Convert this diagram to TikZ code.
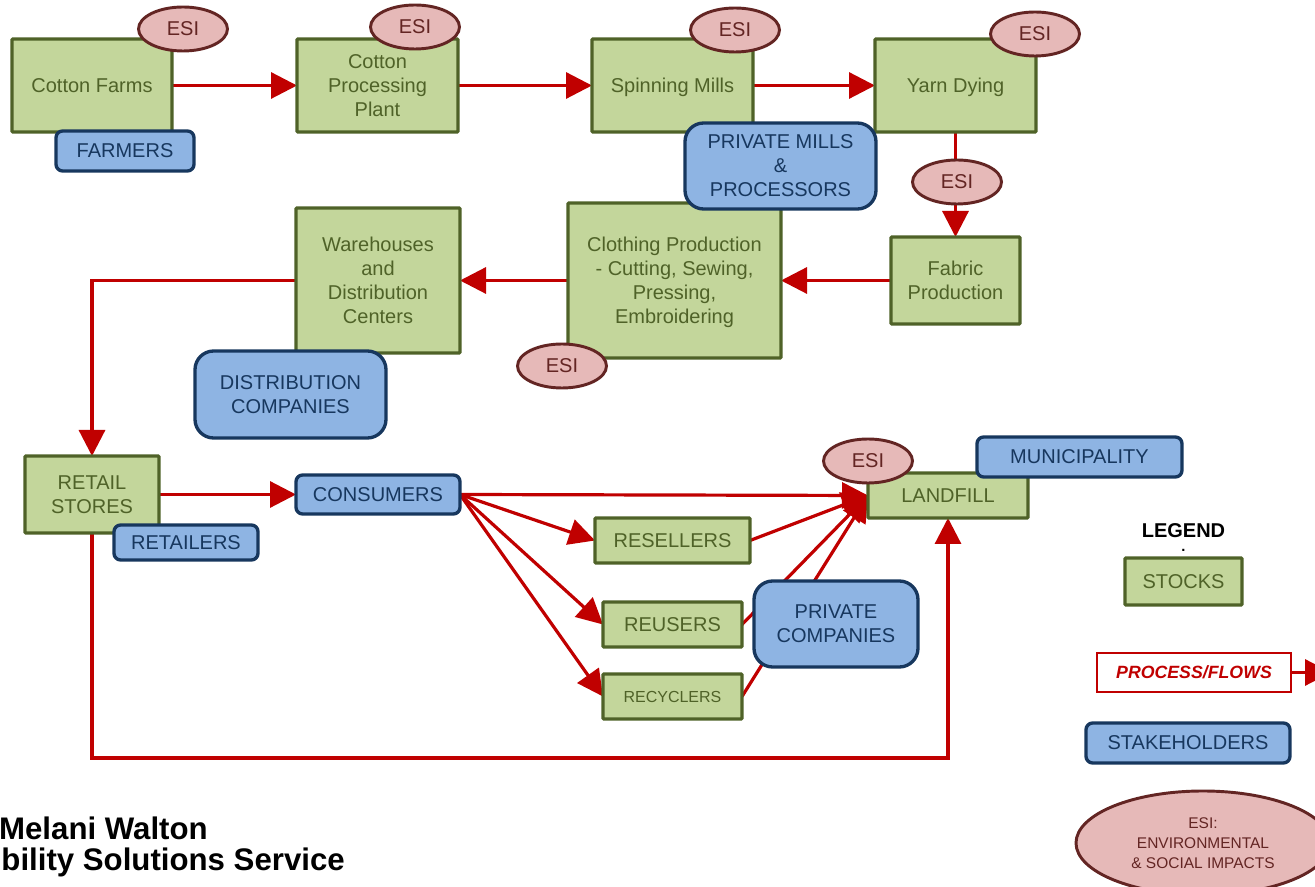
\documentclass[tikz,border=0pt]{standalone}
\usepackage{fontspec}
\setmainfont{Liberation Sans}
\usetikzlibrary{positioning, arrows.meta, backgrounds, shapes.geometric}

\definecolor{stockfill}{HTML}{C3D69B}
\definecolor{stockline}{HTML}{4F6228}
\definecolor{holderfill}{HTML}{8EB4E3}
\definecolor{holderline}{HTML}{17375E}
\definecolor{esifill}{HTML}{E6B9B8}
\definecolor{esiline}{HTML}{632523}
\definecolor{flowred}{HTML}{C00000}

\begin{document}
\begin{tikzpicture}[
      x=0.75pt, y=-0.75pt,
      size/.style 2 args={minimum width=#1*0.75pt, minimum height=#2*0.75pt},
      label font/.style={font=\fontsize{15}{18}\selectfont},
      stock/.style={rectangle, draw=stockline, fill=stockfill, line width=2.5pt, text=stockline, align=center, inner sep=0pt, outer sep=0pt, text depth=-1.5pt, rounded corners=0.8pt, label font},
      holder/.style={rectangle, draw=holderline, fill=holderfill, line width=2.5pt, text=holderline, align=center, inner sep=0pt, outer sep=0pt, text depth=-1.5pt, rounded corners=5pt, label font},
      bigholder/.style={holder, rounded corners=14pt},
      esi/.style={ellipse, draw=esiline, fill=esifill, line width=2.2pt, text=esiline, align=center, inner sep=0pt, text depth=-1pt, size={89}{44}, label font},
      flow/.style={draw=flowred, line width=2.4pt, -{Triangle[length=19.5pt, width=19.5pt]}},
      logotext/.style={font=\fontsize{23.4}{27}\selectfont\bfseries, text=black, inner sep=0pt, anchor=base east}
    ]
    \useasboundingbox (0,0) rectangle (1315,887);

    % Process stocks
    \node[stock, size={160}{93}] (farms) at (92,85.5) {Cotton Farms};
    \node[stock, size={161}{93}] (plant) at (377.5,85.5) {Cotton\\Processing\\Plant};
    \node[stock, size={161}{93}] (mills) at (672.5,85.5) {Spinning Mills};
    \node[stock, size={161}{93}] (dying) at (955.5,85.5) {Yarn Dying};
    \node[stock, size={129}{87}] (fabric) at (955.5,280.5) {Fabric\\Production};
    \node[stock, size={213}{155}] (clothing) at (674.5,280.5) {Clothing Production\\- Cutting, Sewing,\\Pressing,\\Embroidering};
    \node[stock, size={164}{145}] (warehouses) at (378,280.5) {Warehouses\\and\\Distribution\\Centers};
    \node[stock, size={134}{77}] (retail) at (92,494.5) {RETAIL\\STORES};
    \node[stock, size={160}{45}] (landfill) at (948,495.5) {LANDFILL};
    \node[stock, size={155}{45}] (resellers) at (672.5,540.5) {RESELLERS};
    \node[stock, size={139}{45}] (reusers) at (672.5,624.5) {REUSERS};
    \node[stock, size={139}{45}, font=\fontsize{12}{15}\selectfont] (recyclers) at (672.5,696.5) {RECYCLERS};

    % Stakeholders
    \node[holder, size={138}{40}] (farmers) at (125,151) {FARMERS};
    \node[bigholder, size={191}{86}] (privatemills) at (780.5,166) {PRIVATE MILLS\\\&\\PROCESSORS};
    \node[bigholder, size={191}{87}] (distribution) at (290.5,394.5) {DISTRIBUTION\\COMPANIES};
    \node[holder, size={164}{39}] (consumers) at (378,494.5) {CONSUMERS};
    \node[holder, size={144}{35}] (retailers) at (186,542.5) {RETAILERS};
    \node[holder, size={205}{40}] (municipality) at (1079.5,457) {MUNICIPALITY};
    \node[bigholder, size={164}{86}] (privatecos) at (836,624) {PRIVATE\\COMPANIES};

    % Impact ellipses
    \node[esi] (esifarms) at (183,29) {ESI};
    \node[esi] (esiplant) at (415,27) {ESI};
    \node[esi] (esimills) at (735,30) {ESI};
    \node[esi] (esidying) at (1035,34) {ESI};
    \node[esi] (esifabric) at (957,182) {ESI};
    \node[esi] (esiclothing) at (562,366) {ESI};
    \node[esi] (esilandfill) at (868,461) {ESI};

    % Legend
    \node[font=\fontsize{15}{18}\selectfont\bfseries, inner sep=0pt] (legend) at (1183.5,531) {LEGEND};
    \node[font=\fontsize{11}{12}\selectfont\bfseries, inner sep=0pt] (legenddot) at (1183.5,550) {.};
    \node[stock, size={117}{47}] (stocks) at (1183.5,581.5) {STOCKS};
    \node[rectangle, draw=flowred, fill=white, line width=2pt, outer sep=0pt, text=flowred, inner sep=0pt, size={194}{39}, font=\fontsize{13.3}{16}\selectfont\bfseries\itshape] (flows) at (1194,672.5) {PROCESS/FLOWS};
    \node[holder, size={204}{40}] (stakeholders) at (1188,743) {STAKEHOLDERS};
    \node[esi, size={254}{104}, font=\fontsize{11.6}{15}\selectfont] (esilegend) at (1203,843) {ESI:\\ENVIRONMENTAL\\\& SOCIAL IMPACTS};
    \coordinate (flowend) at (1331,672.5);
    \coordinate (bottom) at (520,758);

    % Logo lines
    \node[logotext] (logotop) at (208,840) {Melani Walton};
    \node[logotext] (logobottom) at (345,870) {bility Solutions Service};

    % Flows sit under the boxes
    \begin{pgfonlayer}{background}
      \draw[flow] (farms) -- (plant);
      \draw[flow] (plant) -- (mills);
      \draw[flow] (mills) -- (dying);
      \draw[flow] (dying) -- (fabric);
      \draw[flow] (fabric) -- (clothing);
      \draw[flow] (clothing) -- (warehouses);
      \draw[flow] (warehouses.west) -| (retail.north);
      \draw[flow] (retail) -- (consumers);
      \draw[flow] (consumers.east) -- (landfill.west);
      \draw[flow] (consumers.east) -- (resellers.west);
      \draw[flow] (consumers.east) -- (reusers.west);
      \draw[flow] (consumers.east) -- (recyclers.west);
      \draw[flow] (resellers.east) -- (landfill.west);
      \draw[flow] (reusers.east) -- (landfill.west);
      \draw[flow] (recyclers.east) -- (landfill.west);
      \draw[flow] (retail.south) |- (bottom) -| (landfill.south);
      \draw[flow] (flows.east) -- (flowend);
    \end{pgfonlayer}

  \end{tikzpicture}
\end{document}
